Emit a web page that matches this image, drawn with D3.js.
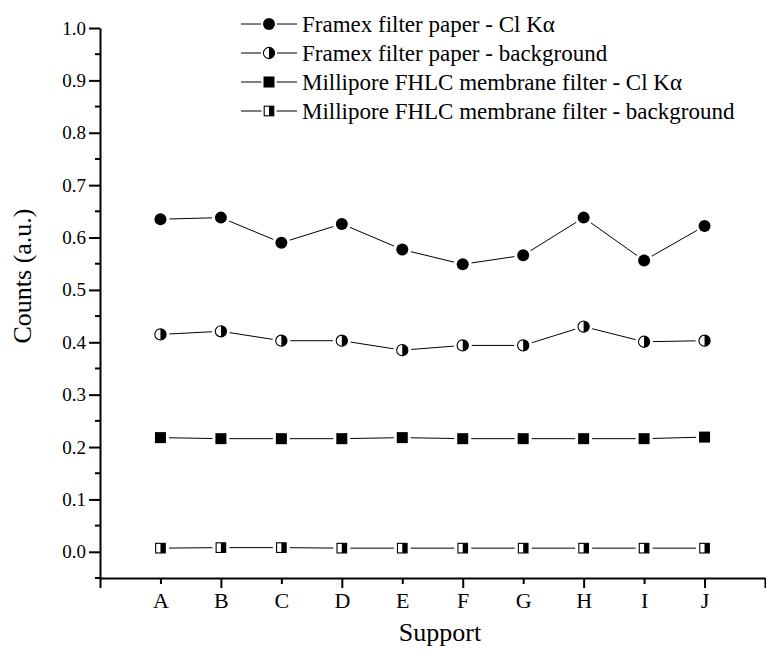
<!DOCTYPE html>
<html>
<head>
<meta charset="utf-8">
<script src="https://cdn.jsdelivr.net/npm/d3@7"></script>
<style>
  body { margin: 0; background: #fff; }
  text { font-family: "Liberation Serif", "Times New Roman", serif; fill: #000; }
</style>
</head>
<body>
<script>
// data
var supports = ["A", "B", "C", "D", "E", "F", "G", "H", "I", "J"];
var framexCl = [0.635, 0.638, 0.590, 0.626, 0.577, 0.549, 0.566, 0.638, 0.556, 0.622];
var framexBg = [0.415, 0.421, 0.403, 0.403, 0.385, 0.394, 0.394, 0.430, 0.401, 0.403];
var milliCl  = [0.218, 0.216, 0.216, 0.216, 0.218, 0.216, 0.216, 0.216, 0.216, 0.219];
var milliBg  = [0.007, 0.008, 0.008, 0.007, 0.007, 0.007, 0.007, 0.007, 0.007, 0.007];
var seriesNames = [
  "Framex filter paper - Cl K\u03b1",
  "Framex filter paper - background",
  "Millipore FHLC membrane filter - Cl K\u03b1",
  "Millipore FHLC membrane filter - background"
];
var markerTypes = ["circle", "halfcircle", "square", "halfsquare"];
var yMajor = [0.0, 0.1, 0.2, 0.3, 0.4, 0.5, 0.6, 0.7, 0.8, 0.9, 1.0];
var yMinor = [-0.05, 0.05, 0.15, 0.25, 0.35, 0.45, 0.55, 0.65, 0.75, 0.85, 0.95];

var W = 766, H = 651;
var FONT = "Liberation Serif, Times New Roman, serif";
var series = [framexCl, framexBg, milliCl, milliBg];

var svg = d3.select("body").append("svg")
    .attr("width", W)
    .attr("height", H)
    .attr("font-family", FONT);

// scales: categories sit at 1..10, axis runs 0..11
var x = d3.scaleLinear().domain([0, 11]).range([100, 765]);
var y = d3.scaleLinear().domain([-0.05, 1.0]).range([578, 28]);

// marker drawing, with a white halo so lines stop short of the symbol
function marker(g, type, cx, cy, gap) {
  var m = g.append("g").attr("transform", "translate(" + cx + "," + cy + ")");
  if (type == "circle" || type == "halfcircle") {
    m.append("circle").attr("r", 6 + gap).attr("fill", "#fff");
  } else {
    var h = 5.5 + gap;
    m.append("rect").attr("x", -h).attr("y", -h).attr("width", 2 * h).attr("height", 2 * h).attr("fill", "#fff");
  }
  if (type == "circle") {
    m.append("circle").attr("r", 6).attr("fill", "#000");
  } else if (type == "halfcircle") {
    var r = 5.6;
    m.append("circle").attr("r", r).attr("fill", "#fff").attr("stroke", "#000").attr("stroke-width", 1.1);
    m.append("path")
      .attr("d", "M0," + (-r) + "A" + r + "," + r + " 0 0 1 0," + r + "Z")
      .attr("fill", "#000");
  } else if (type == "square") {
    m.append("rect").attr("x", -5.5).attr("y", -5.5).attr("width", 11).attr("height", 11).attr("fill", "#000");
  } else {
    var s = 4.8;
    m.append("rect").attr("x", -s).attr("y", -s).attr("width", 2 * s).attr("height", 2 * s)
      .attr("fill", "#fff").attr("stroke", "#000").attr("stroke-width", 1.1);
    m.append("rect").attr("x", 0).attr("y", -s).attr("width", s).attr("height", 2 * s).attr("fill", "#000");
  }
}

// y axis
var yAxis = svg.append("g")
    .attr("transform", "translate(" + x(0) + ",0)")
    .call(d3.axisLeft(y).tickValues(yMajor).tickSize(11).tickSizeOuter(0).tickPadding(3)
      .tickFormat(d3.format(".1f")));
yAxis.attr("font-family", FONT);
yAxis.selectAll(".tick text").attr("font-family", FONT).style("font-size", "19px");
yAxis.append("g").selectAll("line")
    .data(yMinor)
  .enter().append("line")
    .attr("x1", -5).attr("x2", 0)
    .attr("y1", function(d) { return y(d); })
    .attr("y2", function(d) { return y(d); })
    .attr("stroke", "#000");

// x axis
var idx = d3.range(0, 12);
var xAxis = svg.append("g")
    .attr("transform", "translate(0," + y(-0.05) + ")")
    .call(d3.axisBottom(x).tickValues(idx).tickSize(10).tickSizeOuter(0).tickPadding(4)
      .tickFormat(function(i) { return supports[i - 1] || ""; }));
xAxis.attr("font-family", FONT);
xAxis.selectAll(".tick line")
    .attr("y2", function(i) { return (i % 2 == 0 || i == 11) ? 10 : 6; });
xAxis.selectAll(".tick text").attr("font-family", FONT).style("font-size", "22px");

svg.selectAll(".domain, .tick line").attr("stroke", "#000");
svg.selectAll(".domain").attr("stroke-width", 2);
svg.selectAll("line").attr("stroke-width", 2);

// axis titles
svg.append("text")
    .attr("transform", "translate(31,276) rotate(-90)")
    .attr("text-anchor", "middle")
    .style("font-size", "26px")
    .text("Counts (a.u.)");
svg.append("text")
    .attr("x", 440)
    .attr("y", 641)
    .attr("text-anchor", "middle")
    .style("font-size", "26px")
    .text("Support");

// series lines and markers
var line = d3.line()
    .x(function(d, i) { return x(i + 1); })
    .y(function(d) { return y(d); });

var plot = svg.append("g");
series.forEach(function(vals, k) {
  plot.append("path")
      .datum(vals)
      .attr("d", line)
      .attr("fill", "none")
      .attr("stroke", "#000")
      .attr("stroke-width", 1);
});
series.forEach(function(vals, k) {
  vals.forEach(function(v, i) {
    marker(plot, markerTypes[k], x(i + 1), y(v), 3);
  });
});

// legend
var legendRows = [24, 53, 82, 111];
var legend = svg.append("g");
seriesNames.forEach(function(name, k) {
  var ly = legendRows[k];
  legend.append("line")
      .attr("x1", 241).attr("x2", 297)
      .attr("y1", ly).attr("y2", ly)
      .attr("stroke", "#000").attr("stroke-width", 1);
  marker(legend, markerTypes[k], 269, ly, 2);
  legend.append("text")
      .attr("x", 302)
      .attr("y", ly + 8)
      .style("font-size", "23px")
      .text(name);
});
</script>
</body>
</html>
